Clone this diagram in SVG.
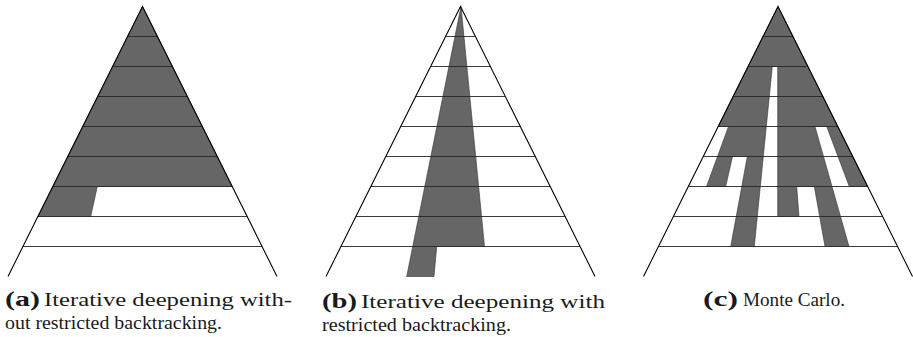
<svg xmlns="http://www.w3.org/2000/svg" width="913" height="337" viewBox="0 0 913 337">
<style>
.fill{fill:#666666;stroke:#333333;stroke-width:0.6;stroke-linejoin:miter}
.lvl{stroke:#262626;stroke-width:0.9;fill:none}
.edge{stroke:#000000;stroke-width:1.1;fill:none}
.cap{font-family:"Liberation Serif","DejaVu Serif",serif;font-size:18.5px;fill:#1a1a1a}
.lab{font-family:"Liberation Serif","DejaVu Serif",serif;font-size:22px;font-weight:bold;fill:#1a1a1a}
</style>
<rect width="913" height="337" fill="#ffffff"/>
<g id="tree-a">
<polygon class="fill" points="142.5,6.5 232.2,186.5 97.3,186.5 90.7,216.5 37.9,216.5"/>
<g class="lvl">
<line x1="127.56" y1="36.5" x2="157.44" y2="36.5"/>
<line x1="112.61" y1="66.5" x2="172.39" y2="66.5"/>
<line x1="97.67" y1="96.5" x2="187.33" y2="96.5"/>
<line x1="82.72" y1="126.5" x2="202.28" y2="126.5"/>
<line x1="67.78" y1="156.5" x2="217.22" y2="156.5"/>
<line x1="52.83" y1="186.5" x2="232.17" y2="186.5"/>
<line x1="37.89" y1="216.5" x2="247.11" y2="216.5"/>
<line x1="22.94" y1="246.5" x2="262.06" y2="246.5"/>
</g>
<polyline class="edge" points="8,276.5 142.5,6.5 277,276.5"/>
</g>
<g id="tree-b">
<polygon class="fill" points="461,6.5 484.5,246.5 436.7,246.5 434,276.5 406.7,276.5"/>
<g class="lvl">
<line x1="445.56" y1="36.5" x2="475.44" y2="36.5"/>
<line x1="430.61" y1="66.5" x2="490.39" y2="66.5"/>
<line x1="415.67" y1="96.5" x2="505.33" y2="96.5"/>
<line x1="400.72" y1="126.5" x2="520.28" y2="126.5"/>
<line x1="385.78" y1="156.5" x2="535.22" y2="156.5"/>
<line x1="370.83" y1="186.5" x2="550.17" y2="186.5"/>
<line x1="355.89" y1="216.5" x2="565.11" y2="216.5"/>
<line x1="340.94" y1="246.5" x2="580.06" y2="246.5"/>
</g>
<polyline class="edge" points="326,276.5 460.5,6.5 595,276.5"/>
</g>
<g id="tree-c">
<polygon class="fill" points="778,6.5 718.2,126.5 728.5,126.5 706.5,186.5 725.7,186.5 732.5,156.5 747.3,156.5 730.7,246.5 754.3,246.5 772.3,66.5 777.7,66.5 777.7,216.5 799,216.5 796.7,186.5 814.3,186.5 825,246.5 849,246.5 815,126.5 826.7,126.5 849.3,186.5 867.7,186.5"/>
<g class="lvl">
<line x1="763.06" y1="36.5" x2="792.94" y2="36.5"/>
<line x1="748.11" y1="66.5" x2="807.89" y2="66.5"/>
<line x1="733.17" y1="96.5" x2="822.83" y2="96.5"/>
<line x1="718.22" y1="126.5" x2="837.78" y2="126.5"/>
<line x1="703.28" y1="156.5" x2="852.72" y2="156.5"/>
<line x1="688.33" y1="186.5" x2="867.67" y2="186.5"/>
<line x1="673.39" y1="216.5" x2="882.61" y2="216.5"/>
<line x1="658.44" y1="246.5" x2="897.56" y2="246.5"/>
</g>
<polyline class="edge" points="643.5,276.5 778,6.5 912.5,276.5"/>
</g>
<g id="captions">
<text class="lab" x="5" y="306" textLength="35" lengthAdjust="spacingAndGlyphs">(a)</text>
<text class="cap" x="44" y="306" textLength="248" lengthAdjust="spacingAndGlyphs">Iterative deepening with-</text>
<text class="cap" x="5" y="329" textLength="217" lengthAdjust="spacingAndGlyphs">out restricted backtracking.</text>
<text class="lab" x="322" y="308" textLength="35" lengthAdjust="spacingAndGlyphs">(b)</text>
<text class="cap" x="361" y="308" textLength="244" lengthAdjust="spacingAndGlyphs">Iterative deepening with</text>
<text class="cap" x="322" y="331" textLength="189" lengthAdjust="spacingAndGlyphs">restricted backtracking.</text>
<text class="lab" x="703" y="306" textLength="35" lengthAdjust="spacingAndGlyphs">(c)</text>
<text class="cap" x="743" y="306" textLength="102" lengthAdjust="spacingAndGlyphs">Monte Carlo.</text>
</g>
</svg>
